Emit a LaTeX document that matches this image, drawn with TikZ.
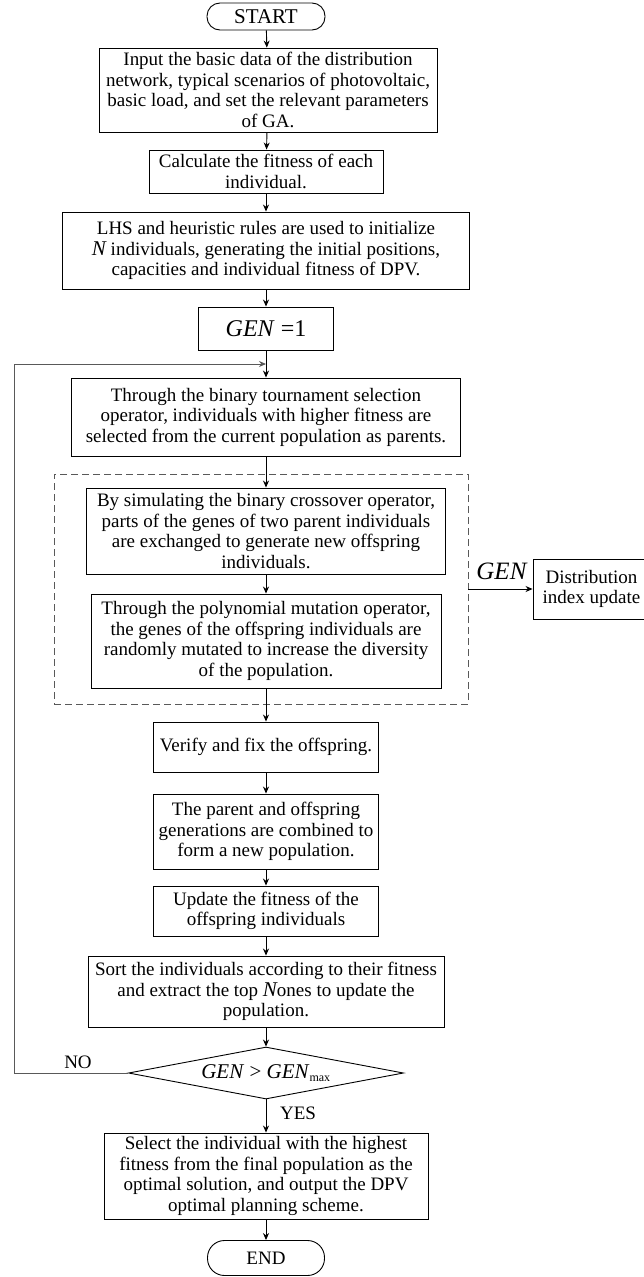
\documentclass[tikz,border=0pt]{standalone}
\usepackage{fontspec}
\setmainfont{Liberation Serif}
\usetikzlibrary{arrows.meta,shapes.geometric}
\newcommand{\bigN}{{\fontsize{21}{21}\selectfont\itshape N}}
\newcommand{\gen}{\textit{GEN}}

\begin{document}
\begin{tikzpicture}[x=1pt, y=-1pt, font=\fontsize{19}{20.5}\selectfont,
	box/.style={draw, line width=0.9pt, align=center, inner sep=1pt},
	term/.style={draw, line width=0.9pt, rounded corners=13pt, minimum width=118pt, minimum height=27pt},
	flow/.style={-{Stealth[length=7pt,width=6pt]}, line width=0.9pt}]
	\useasboundingbox (0,0) rectangle (643,1277);
	\node[term, font=\fontsize{21}{21}\selectfont] (start) at (266,16.5) {START};
	\node[box, minimum width=338pt, minimum height=84pt] (b1) at (268,90) {Input the basic data of the distribution\\network, typical scenarios of photovoltaic,\\basic load, and set the relevant parameters\\of GA.};
	\node[box, minimum width=234pt, minimum height=43pt] (b2) at (266,171.5) {Calculate the fitness of each\\individual.};
	\node[box, minimum width=407pt, minimum height=77pt] (b3) at (266,250.5) {LHS and heuristic rules are used to initialize\\\bigN\ individuals, generating the initial positions,\\capacities and individual fitness of DPV.};
	\node[box, minimum width=135pt, minimum height=43pt, font=\fontsize{24}{24}\selectfont] (gen1) at (266,328.5) {\gen\ =1};
	\node[box, minimum width=389pt, minimum height=78pt] (b4) at (266,417) {Through the binary tournament selection\\operator, individuals with higher fitness are\\selected from the current population as parents.};
	\node[draw, dash pattern=on 7pt off 4pt, color=black!65, line width=0.9pt, minimum width=414pt, minimum height=230pt] (grp) at (261,589) {};
	\node[box, minimum width=359pt, minimum height=86pt] (b5) at (266,531) {By simulating the binary crossover operator,\\parts of the genes of two parent individuals\\are exchanged to generate new offspring\\individuals.};
	\node[box, minimum width=350pt, minimum height=94pt] (b6) at (266,641) {Through the polynomial mutation operator,\\the genes of the offspring individuals are\\randomly mutated to increase the diversity\\of the population.};
	\node[box, minimum width=117pt, minimum height=60pt] (dist) at (591.5,589) {Distribution\\index update};
	\node[font=\fontsize{25}{25}\selectfont] (genlbl) at (502,571) {\gen};
	\node[box, minimum width=225pt, minimum height=50pt] (b7) at (266,747) {Verify and fix the offspring.};
	\node[box, minimum width=225pt, minimum height=75pt] (b8) at (266,831.5) {The parent and offspring\\generations are combined to\\form a new population.};
	\node[box, minimum width=225pt, minimum height=50pt] (b9) at (266,911) {Update the fitness of the\\offspring individuals};
	\node[box, minimum width=356pt, minimum height=71pt] (b10) at (266,991.5) {Sort the individuals according to their fitness\\and extract the top \bigN ones to update the\\population.};
	\node[draw, line width=0.9pt, diamond, aspect=5.3, inner sep=0pt, minimum width=275pt, minimum height=52pt, font=\fontsize{21}{21}\selectfont] (dia) at (266,1073) {\gen\ > \gen\textsubscript{\fontsize{12}{12}\selectfont max}};
	\node (nolbl) at (78,1062) {NO};
	\node (yeslbl) at (298,1113) {YES};
	\node[box, minimum width=324pt, minimum height=86pt] (b11) at (266,1176) {Select the individual with the highest\\fitness from the final population as the\\optimal solution, and output the DPV\\optimal planning scheme.};
	\node[term, minimum width=117pt, minimum height=35pt, rounded corners=17pt] (end) at (266,1258) {END};
	\coordinate (loopin) at (266,364);
	\draw[flow] (start) -- (b1);
	\draw[flow] (b1) -- (b2);
	\draw[flow] (b2) -- (b3);
	\draw[flow] (b3) -- (gen1);
	\draw[flow] (gen1) -- (b4);
	\draw[flow] (b4) -- (b5);
	\draw[flow] (b5) -- (b6);
	\draw[flow] (b6) -- (b7);
	\draw[flow] (b7) -- (b8);
	\draw[flow] (b8) -- (b9);
	\draw[flow] (b9) -- (b10);
	\draw[flow] (b10) -- (dia);
	\draw[flow] (dia) -- (b11);
	\draw[flow] (b11) -- (end);
	\draw[flow, color=black!65] (dia.west) -- ++(-114,0) |- (loopin);
	\draw[flow] (grp.east) -- (dist.west);
\end{tikzpicture}
\end{document}
